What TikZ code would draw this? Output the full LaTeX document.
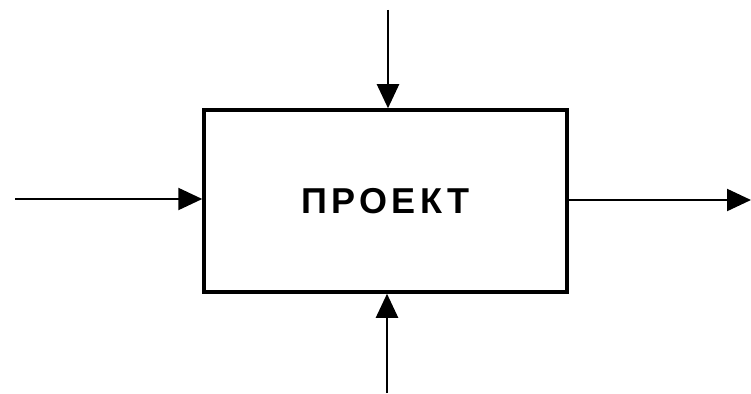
\documentclass[tikz,border=0pt]{standalone}
\usepackage{fontspec}
\setmainfont{Liberation Sans}
\newfontfamily\spacedfont[LetterSpace=12]{Liberation Sans}
\usetikzlibrary{arrows.meta}
\tikzset{
  projbox/.style={draw, line width=3.5pt, minimum width=363pt, minimum height=182pt, inner sep=0pt, font=\spacedfont\bfseries\fontsize{36}{40}\selectfont},
  flow/.style={line width=2.2pt, -{Triangle[length=24pt,width=22pt]}}
}
\begin{document}
\begin{tikzpicture}[x=1pt,y=-1pt]
  \useasboundingbox (0,0) rectangle (751,393);
  \node[projbox] (proekt) at (385.5,201) {ПРОЕКТ};
  \coordinate (inL) at (15,199);
  \coordinate (outR) at (751,200);
  \coordinate (topin) at (388,10);
  \coordinate (botin) at (387,393);
  \draw[flow] (inL) -- (proekt.west |- inL);
  \draw[flow] (proekt.east |- outR) -- (outR);
  \draw[flow] (topin) -- (proekt.north -| topin);
  \draw[flow] (botin) -- (proekt.south -| botin);
\end{tikzpicture}
\end{document}
